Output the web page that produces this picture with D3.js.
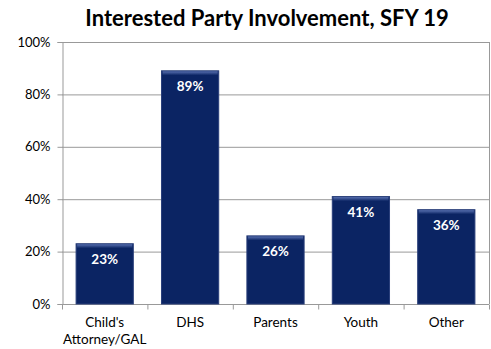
<!DOCTYPE html>
<html><head><meta charset="utf-8">
<script src="https://cdn.jsdelivr.net/npm/d3@7"></script>
<style>body{margin:0;background:#fff}svg{display:block}</style>
</head><body>
<script>
const categories = [["Child's","Attorney/GAL"],["DHS"],["Parents"],["Youth"],["Other"]];
const values = [23, 89, 26, 41, 36];
const yTicks = [0, 20, 40, 60, 80, 100];
const title = "Interested Party Involvement, SFY 19";

const W = 491, H = 349;
const m = {left: 62, right: 2, top: 42, bottom: 45};
const svg = d3.select("body").append("svg").attr("width", W).attr("height", H);
const defs = svg.append("defs");
const g1 = defs.append("linearGradient").attr("id","bevel").attr("x1",0).attr("y1",0).attr("x2",0).attr("y2",1);
g1.append("stop").attr("offset",0).attr("stop-color","#5870b0");
g1.append("stop").attr("offset",1).attr("stop-color","#0b2463");

const x = d3.scaleBand().domain(d3.range(categories.length)).range([m.left, W - m.right]).paddingInner(0.33).paddingOuter(0.165);
const y = d3.scaleLinear().domain([0, 100]).range([H - m.bottom, m.top]);

svg.append("text").attr("x", 267).attr("y", 26).attr("text-anchor","middle")
  .attr("font-family","Lato, 'Open Sans', sans-serif").attr("font-weight","bold").attr("font-size",22)
  .attr("fill","#000").text(title);

// gridlines
svg.append("g").selectAll("line").data(yTicks.filter(d=>d>0)).join("line")
  .attr("x1", m.left).attr("x2", W - m.right).attr("y1", d=>y(d)+0.5).attr("y2", d=>y(d)+0.5)
  .attr("stroke","#999").attr("stroke-width",1);
// right border
svg.append("line").attr("x1",W-m.right+0.5).attr("x2",W-m.right+0.5).attr("y1",y(100)).attr("y2",y(0))
  .attr("stroke","#999");

// y axis
const ya = svg.append("g").attr("transform",`translate(${m.left+0.5},0)`)
  .call(d3.axisLeft(y).tickValues(yTicks).tickFormat(d=>d+"%").tickSize(5).tickPadding(7));
ya.select(".domain").attr("stroke","#999");
ya.selectAll(".tick line").attr("stroke","#999");
ya.selectAll("text").attr("font-family","Lato, 'Open Sans', sans-serif").attr("font-size",13).attr("fill","#000");

// x axis
const xa = svg.append("g").attr("transform",`translate(0,${y(0)+0.5})`);
xa.append("line").attr("x1",m.left).attr("x2",W-m.right).attr("stroke","#999");
xa.selectAll("line.tk").data(d3.range(categories.length+1)).join("line").attr("class","tk")
  .attr("x1",i=>m.left + i*(W-m.left-m.right)/categories.length+0.5).attr("x2",i=>m.left + i*(W-m.left-m.right)/categories.length+0.5)
  .attr("y1",0).attr("y2",5).attr("stroke","#999");

const lab = svg.append("g").selectAll("text").data(categories).join("text")
  .attr("x",(d,i)=>x(i)+x.bandwidth()/2).attr("y", y(0)+23)
  .attr("text-anchor","middle").attr("font-family","Lato, 'Open Sans', sans-serif").attr("font-size",13.5).attr("fill","#000");
lab.each(function(d){
  const t = d3.select(this);
  d.forEach((s,k)=>t.append("tspan").attr("x",t.attr("x")).attr("dy",k?17:0).text(s));
});

// bars
const bars = svg.append("g").selectAll("g").data(values).join("g");
bars.append("rect").attr("x",(d,i)=>x(i)).attr("y",d=>y(d)).attr("width",x.bandwidth()).attr("height",d=>y(0)-y(d))
  .attr("fill","#0b2463").attr("stroke","#2a3f7a").attr("stroke-width",1);
bars.append("rect").attr("x",(d,i)=>x(i)+1).attr("y",d=>y(d)+0.5).attr("width",x.bandwidth()-2).attr("height",4)
  .attr("fill","url(#bevel)");
bars.append("text").attr("x",(d,i)=>x(i)+x.bandwidth()/2).attr("y",d=>y(d)+20)
  .attr("text-anchor","middle").attr("font-family","Lato, 'Open Sans', sans-serif").attr("font-weight","bold")
  .attr("font-size",13.5).attr("fill","#fff").text(d=>d+"%");
</script>
</body></html>
